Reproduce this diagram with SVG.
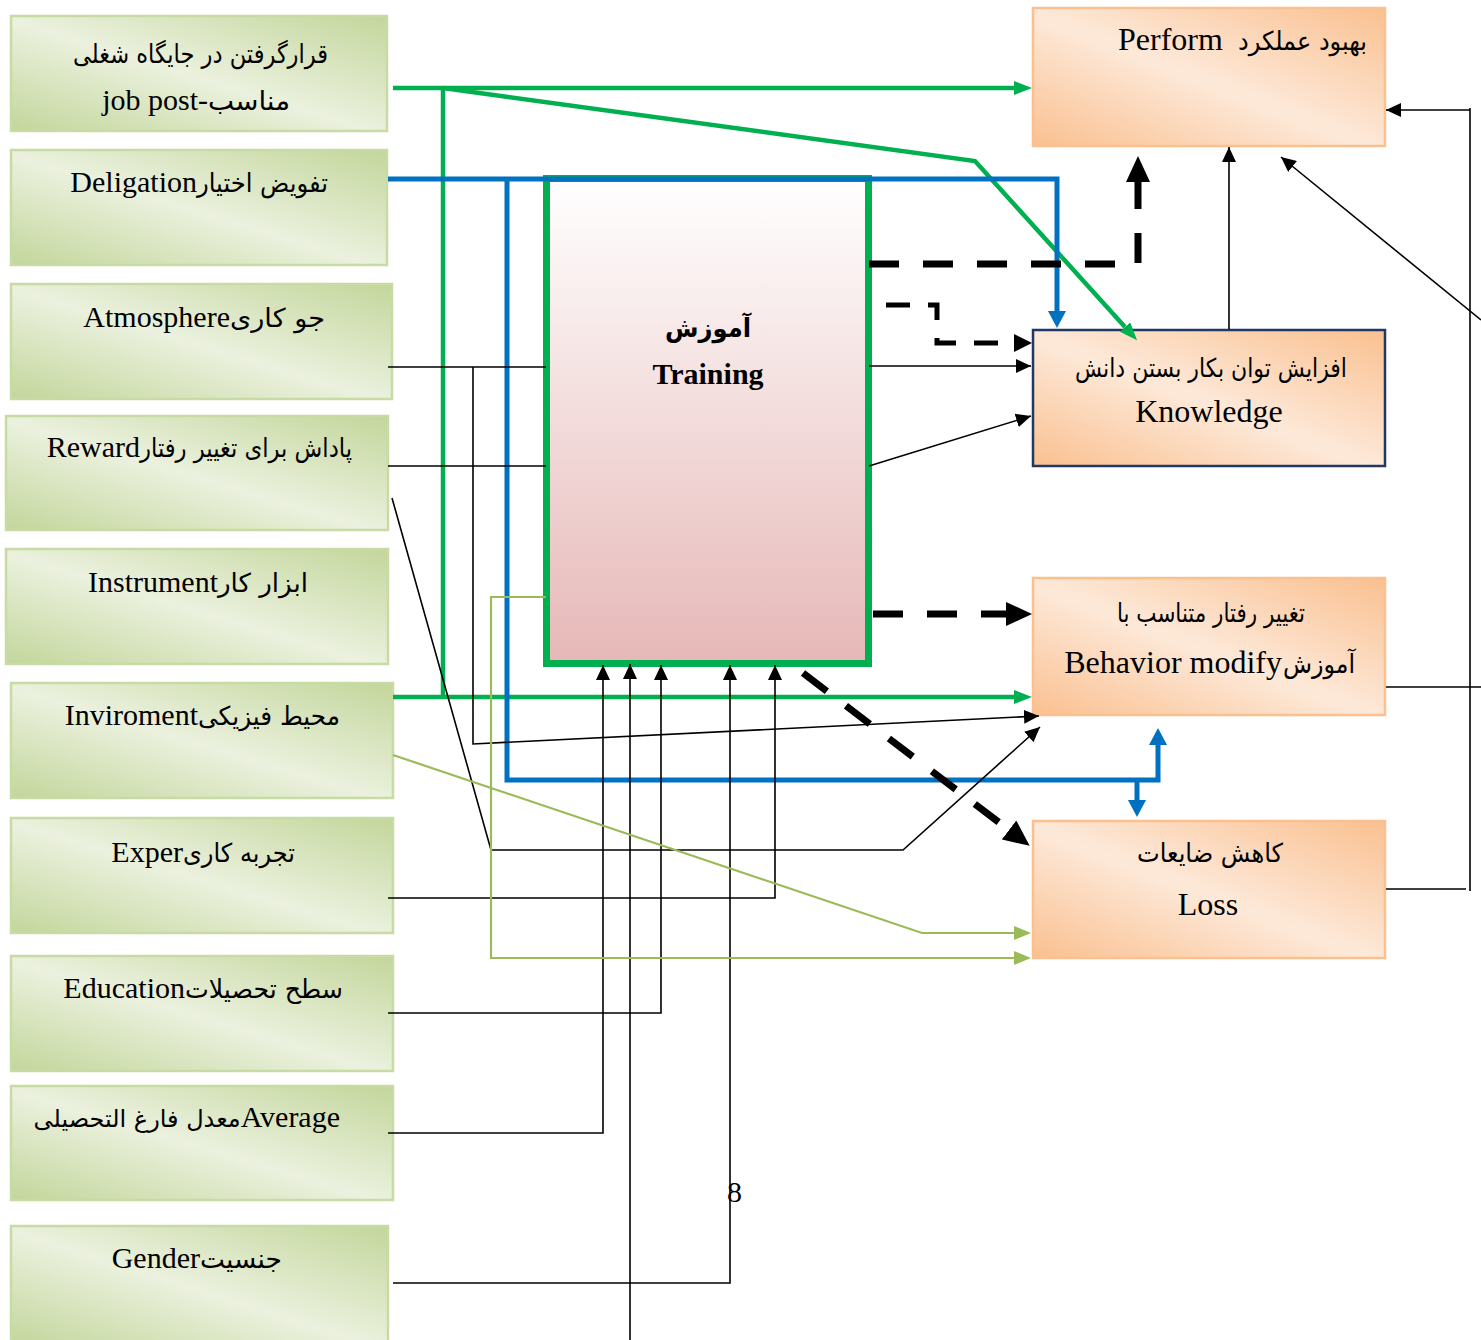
<svg xmlns="http://www.w3.org/2000/svg" width="1481" height="1340" viewBox="0 0 1481 1340">
<style>
.gbox{fill:url(#gG);stroke:#c8dba5;stroke-width:2.5}
.obox{fill:url(#gO);stroke:#fac090;stroke-width:2.5}
.lat{font-family:"Liberation Serif","Times New Roman",serif;font-size:30px;fill:#000}
.latr{font-family:"Liberation Serif","Times New Roman",serif;font-size:32px;fill:#000}
.fa{font-family:"DejaVu Sans","Noto Sans",sans-serif;font-size:26px;fill:#000}
.thin{fill:none;stroke:#000;stroke-width:1.6}
.grn{fill:none;stroke:#00b050;stroke-width:4.5}
.blu{fill:none;stroke:#0070c0;stroke-width:5}
.lgr{fill:none;stroke:#9bbb59;stroke-width:2.2}
.dash{fill:none;stroke:#000;stroke-width:7;stroke-dasharray:30 24}
</style>
<defs>
<linearGradient id="gG" x1="0" y1="1" x2="1" y2="0">
<stop offset="0" stop-color="#c3d69b"/>
<stop offset="0.48" stop-color="#ebf1de"/>
<stop offset="1" stop-color="#c3d69b"/>
</linearGradient>
<linearGradient id="gO" x1="0" y1="1" x2="1" y2="0">
<stop offset="0" stop-color="#fac090"/>
<stop offset="0.48" stop-color="#fde9d9"/>
<stop offset="1" stop-color="#fac090"/>
</linearGradient>
<linearGradient id="gT" x1="0" y1="0" x2="0" y2="1">
<stop offset="0" stop-color="#ffffff"/>
<stop offset="1" stop-color="#e6b8b7"/>
</linearGradient>
<marker id="ab" markerUnits="userSpaceOnUse" markerWidth="16" markerHeight="14" refX="15" refY="7" orient="auto"><path d="M0,0 L15,7 L0,14 z" fill="#000"/></marker>
<marker id="ag" markerUnits="userSpaceOnUse" markerWidth="18" markerHeight="14" refX="0" refY="7" orient="auto"><path d="M0,0 L18,7 L0,14 z" fill="#00b050"/></marker>
<marker id="abl" markerUnits="userSpaceOnUse" markerWidth="18" markerHeight="18" refX="0" refY="9" orient="auto"><path d="M0,0 L17,9 L0,18 z" fill="#0070c0"/></marker>
<marker id="alg" markerUnits="userSpaceOnUse" markerWidth="17" markerHeight="14" refX="0" refY="7" orient="auto"><path d="M0,0 L17,7 L0,14 z" fill="#9bbb59"/></marker>
<marker id="abig" markerUnits="userSpaceOnUse" markerWidth="26" markerHeight="24" refX="0" refY="12" orient="auto"><path d="M0,0 L26,12 L0,24 z" fill="#000"/></marker>
<marker id="amed" markerUnits="userSpaceOnUse" markerWidth="18" markerHeight="18" refX="0" refY="9" orient="auto"><path d="M0,0 L18,9 L0,18 z" fill="#000"/></marker>
</defs>
<rect width="1481" height="1340" fill="#fff"/>

<g id="n-jobpost"><rect class="gbox" x="11" y="16" width="376" height="115"/>
<text class="fa" x="73" y="63" textLength="255" lengthAdjust="spacingAndGlyphs">قرارگرفتن در جایگاه شغلی</text>
<text class="lat" x="208" y="110" text-anchor="end">job post-</text>
<text class="fa" x="208" y="110" textLength="82" lengthAdjust="spacingAndGlyphs">مناسب</text></g>
<g id="n-delegation"><rect class="gbox" x="11" y="150" width="376" height="115"/>
<text class="lat" x="197" y="192" text-anchor="end">Deligation</text>
<text class="fa" x="197" y="192" textLength="131" lengthAdjust="spacingAndGlyphs">تفویض اختیار</text></g>
<g id="n-atmosphere"><rect class="gbox" x="11" y="284" width="381" height="115"/>
<text class="lat" x="230" y="327" text-anchor="end">Atmosphere</text>
<text class="fa" x="230" y="327" textLength="95" lengthAdjust="spacingAndGlyphs">جو کاری</text></g>
<g id="n-reward"><rect class="gbox" x="6" y="416" width="382" height="114"/>
<text class="lat" x="140" y="457" text-anchor="end">Reward</text>
<text class="fa" x="140" y="457" textLength="212" lengthAdjust="spacingAndGlyphs">پاداش برای تغییر رفتار</text></g>
<g id="n-instrument"><rect class="gbox" x="6" y="549" width="382" height="115"/>
<text class="lat" x="218" y="592" text-anchor="end">Instrument</text>
<text class="fa" x="218" y="592" textLength="90" lengthAdjust="spacingAndGlyphs">ابزار کار</text></g>
<g id="n-environment"><rect class="gbox" x="11" y="683" width="382" height="115"/>
<text class="lat" x="198" y="725" text-anchor="end">Inviroment</text>
<text class="fa" x="198" y="725" textLength="142" lengthAdjust="spacingAndGlyphs">محیط فیزیکی</text></g>
<g id="n-exper"><rect class="gbox" x="11" y="818" width="382" height="115"/>
<text class="lat" x="183" y="862" text-anchor="end">Exper</text>
<text class="fa" x="183" y="862" textLength="112" lengthAdjust="spacingAndGlyphs">تجربه کاری</text></g>
<g id="n-education"><rect class="gbox" x="11" y="956" width="382" height="115"/>
<text class="lat" x="185" y="998" text-anchor="end">Education</text>
<text class="fa" x="185" y="998" textLength="158" lengthAdjust="spacingAndGlyphs">سطح تحصیلات</text></g>
<g id="n-average"><rect class="gbox" x="11" y="1086" width="382" height="114"/>
<text class="lat" x="340" y="1127" text-anchor="end"><tspan font-family="DejaVu Sans, sans-serif" font-size="24">معدل فارغ التحصیلی</tspan>Average</text></g>
<g id="n-gender"><rect class="gbox" x="11" y="1226" width="377" height="120"/>
<text class="lat" x="200" y="1268" text-anchor="end">Gender</text>
<text class="fa" x="200" y="1268" textLength="82" lengthAdjust="spacingAndGlyphs">جنسیت</text></g>

<g id="n-perform"><rect class="obox" x="1033" y="8" width="352" height="138"/>
<text class="latr" x="1118" y="50">Perform</text>
<text class="fa" x="1238" y="50" textLength="129" lengthAdjust="spacingAndGlyphs">بهبود عملکرد</text></g>
<g id="n-knowledge"><rect x="1033" y="330" width="352" height="136" fill="url(#gO)" stroke="#1f3864" stroke-width="2.5"/>
<text class="fa" x="1075" y="377" textLength="272" lengthAdjust="spacingAndGlyphs">افزایش توان بکار بستن دانش</text>
<text class="latr" x="1209" y="422" text-anchor="middle">Knowledge</text></g>
<g id="n-behavior"><rect class="obox" x="1033" y="578" width="352" height="137"/>
<text class="fa" x="1117" y="622" textLength="188" lengthAdjust="spacingAndGlyphs">تغییر رفتار متناسب با</text>
<text class="latr" x="1282" y="673" text-anchor="end">Behavior modify</text>
<text class="fa" x="1283" y="673" textLength="72" lengthAdjust="spacingAndGlyphs">آموزش</text></g>
<g id="n-loss"><rect class="obox" x="1033" y="821" width="352" height="137"/>
<text class="fa" x="1137" y="862" textLength="146" lengthAdjust="spacingAndGlyphs">کاهش ضایعات</text>
<text class="latr" x="1208" y="915" text-anchor="middle">Loss</text></g>

<g id="n-training"><rect x="546.5" y="178.5" width="322" height="485" fill="url(#gT)" stroke="#00b050" stroke-width="7"/>
<text class="fa" x="665" y="337" textLength="86" lengthAdjust="spacingAndGlyphs" font-weight="bold" font-size="29">آموزش</text>
<text class="lat" x="708" y="384" text-anchor="middle" font-weight="bold" font-size="31">Training</text></g>

<g id="connectors">
<path class="grn" d="M393,88 H1014" marker-end="url(#ag)"/>
<path class="grn" d="M443,88 V697"/>
<path class="grn" d="M393,697 H1014" marker-end="url(#ag)"/>
<path class="grn" d="M443,88 L975,161 L1125,327" marker-end="url(#ag)"/>
<path class="blu" d="M388,179 H1057 V311" marker-end="url(#abl)"/>
<path class="blu" d="M507,179 V780 H1158 V745" marker-end="url(#abl)"/>
<path class="blu" d="M1137,780 V800" marker-end="url(#abl)"/>
<path class="dash" d="M869,264 H1138 V182" marker-end="url(#abig)"/>
<path fill="none" stroke="#000" stroke-width="5" stroke-dasharray="24 18" d="M886,305 H937 V343 H1014" marker-end="url(#amed)"/>
<path class="dash" d="M873,614 H1006" stroke-dasharray="28 25" marker-end="url(#abig)"/>
<path class="dash" d="M803,673 L1009,830" marker-end="url(#abig)"/>
<path class="thin" d="M869,366 H1031" marker-end="url(#ab)"/>
<path class="thin" d="M869,466 L1031,416" marker-end="url(#ab)"/>
<path class="thin" d="M388,367 H546"/>
<path class="thin" d="M388,466 H546"/>
<path class="thin" d="M473,367 V744 L1039,716" marker-end="url(#ab)"/>
<path class="thin" d="M392,498 L491,850 H903 L1040,727" marker-end="url(#ab)"/>
<path class="thin" d="M388,898 H775 V665" marker-end="url(#ab)"/>
<path class="thin" d="M388,1013 H661 V665" marker-end="url(#ab)"/>
<path class="thin" d="M388,1133 H603 V665" marker-end="url(#ab)"/>
<path class="thin" d="M393,1283 H730 V665" marker-end="url(#ab)"/>
<path class="thin" d="M630,1340 V664" marker-end="url(#ab)"/>
<path class="lgr" d="M546,597 H491 V958 H1014" marker-end="url(#alg)"/>
<path class="lgr" d="M393,755 L922,933 H1014" marker-end="url(#alg)"/>
<path class="thin" d="M1229,329 V147" marker-end="url(#ab)"/>
<path class="thin" d="M1470,108 V891"/>
<path class="thin" d="M1470,110 H1386" marker-end="url(#ab)"/>
<path class="thin" d="M1386,687 H1481"/>
<path class="thin" d="M1386,889 H1466"/>
<path class="thin" d="M1481,320 L1281,157" marker-end="url(#ab)"/>
</g>
<text class="lat" x="727" y="1202" font-size="32">8</text>
</svg>
